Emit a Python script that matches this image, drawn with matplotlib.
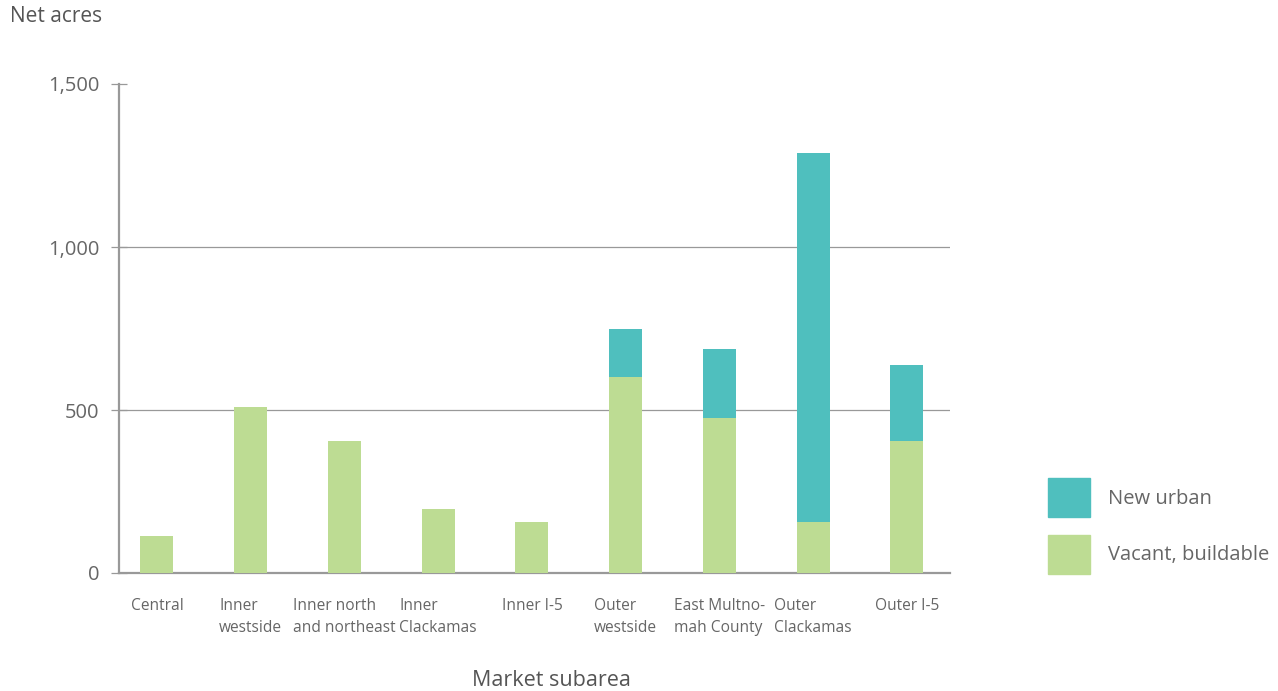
import numpy as np
import matplotlib
matplotlib.use('Agg')
import matplotlib.pyplot as plt
from matplotlib.patches import Patch

plt.rcParams['font.family'] = ['Open Sans', 'DejaVu Sans']

categories = ['Central', 'Inner\nwestside', 'Inner north\nand northeast', 'Inner\nClackamas',
              'Inner I-5', 'Outer\nwestside', 'East Multno-\nmah County', 'Outer\nClackamas',
              'Outer I-5']
vacant_buildable = [113, 510, 405, 196, 156, 601, 475, 156, 405]
new_urban = [0, 0, 0, 0, 0, 147, 212, 1132, 233]
y_ticks = [0, 500, 1000, 1500]

green = '#bddc93'
teal = '#4fbfbe'
grey_text = '#666666'
grey_line = '#999999'

fig = plt.figure(figsize=(12.78, 6.91), dpi=100)
ax = fig.add_axes([119 / 1278, 1 - 573 / 691, (950 - 119) / 1278, (573 - 84) / 691])

x = np.arange(len(categories))
width = 0.352
ax.bar(x, vacant_buildable, width, color=green, zorder=3)
ax.bar(x, new_urban, width, bottom=vacant_buildable, color=teal, zorder=3)

ax.set_xlim(-0.405, 8.459)
ax.set_ylim(0, 1500)
ax.set_yticks(y_ticks)
ax.set_yticklabels(['{:,}'.format(v) for v in y_ticks])
ax.set_xticks(x)
ax.set_xticklabels(categories, multialignment='left', va='top', linespacing=1.5)

# only the two inner gridlines are drawn
for v in [500, 1000]:
    ax.axhline(v, color=grey_line, lw=0.9, zorder=1)

for side in ['top', 'right']:
    ax.spines[side].set_visible(False)
for side in ['left', 'bottom']:
    ax.spines[side].set_color(grey_line)
    ax.spines[side].set_linewidth(1.6)

ax.tick_params(axis='y', direction='inout', length=11.5, width=0.9, color=grey_line,
               labelsize=14.5, labelcolor=grey_text, pad=8.5)
ax.tick_params(axis='x', length=0, labelsize=11.2, labelcolor=grey_text, pad=18)

fig.text(10 / 1278, 1 - 17 / 691, 'Net acres', fontsize=15, color='#555555', va='center', ha='left')
fig.text(551 / 1278, 1 - 680 / 691, 'Market subarea', fontsize=15.5, color='#555555', va='center', ha='center')

handles = [Patch(color=teal, label='New urban'), Patch(color=green, label='Vacant, buildable')]
fig.legend(handles=handles, loc='upper left', bbox_to_anchor=(1048 / 1278, 1 - 478 / 691),
           frameon=False, fontsize=14.5, handlelength=2.09, handleheight=2.6, labelspacing=0.89,
           handletextpad=0.89, borderpad=0, borderaxespad=0, labelcolor=grey_text)

fig.savefig('out.png', dpi=100)
